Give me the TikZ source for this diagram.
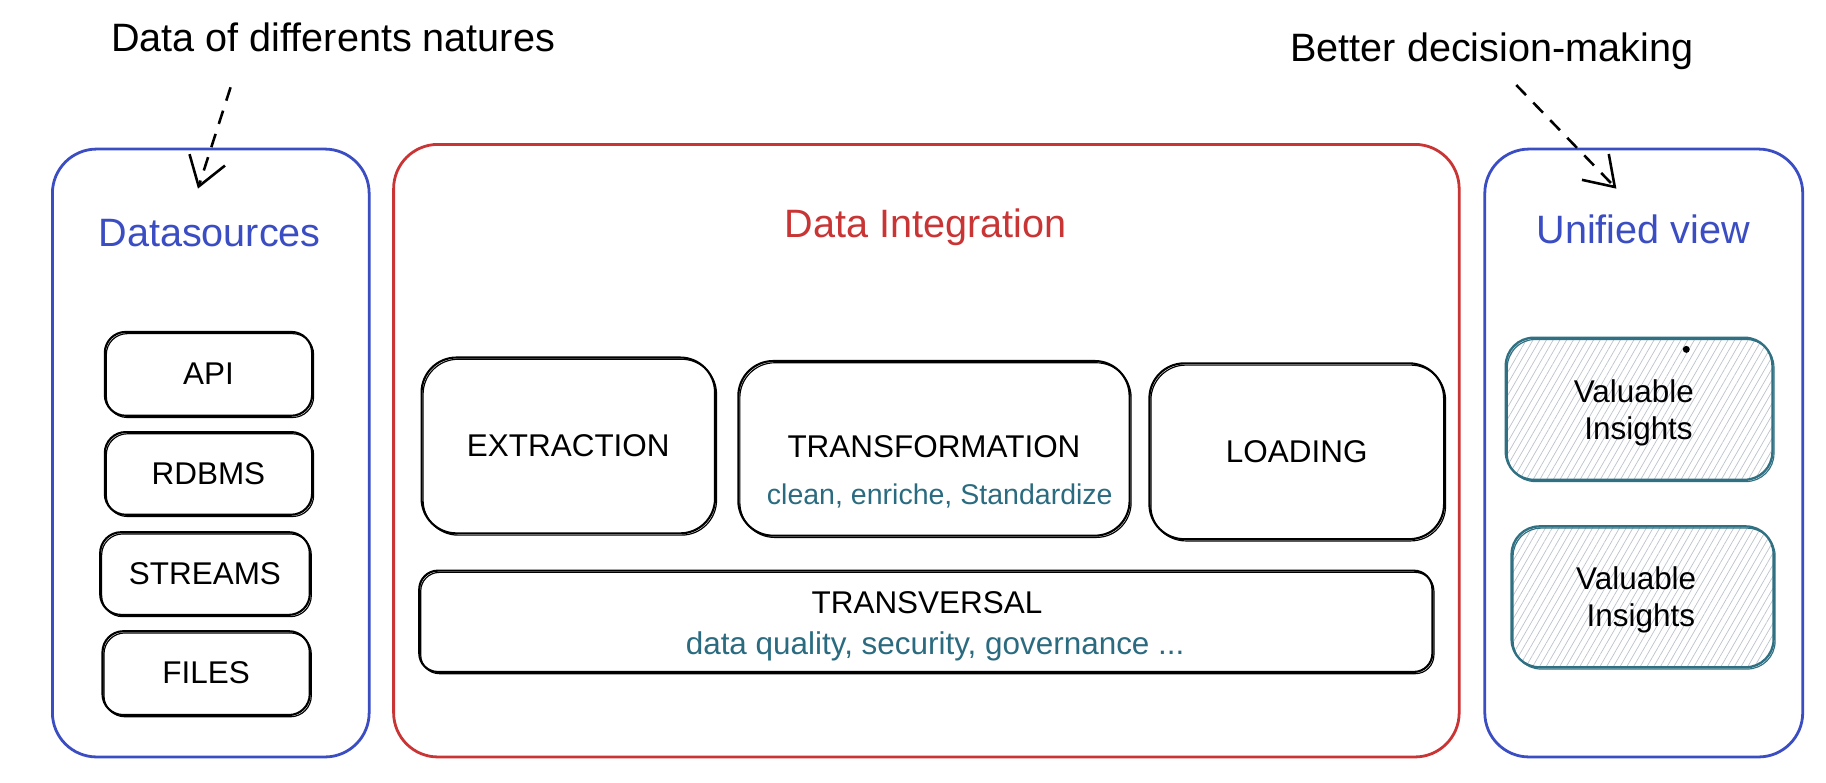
\documentclass[tikz,border=0pt]{standalone}
\usepackage{fontspec}
\setmainfont{Liberation Sans}
\usetikzlibrary{arrows.meta,patterns.meta}
\definecolor{dsblue}{HTML}{3B4DC2}
\definecolor{dired}{HTML}{C93434}
\definecolor{tealtxt}{HTML}{2B6B80}
\definecolor{tealline}{HTML}{2F7082}
\definecolor{hatchc}{HTML}{BCC3CB}
\begin{document}
\begin{tikzpicture}[x=1pt,y=-1pt,
  big/.style={draw, line width=2.4pt, rounded corners=38pt, inner sep=0pt},
  box/.style={draw, line width=1.8pt, rounded corners=#1, inner sep=0pt,
    font=\fontsize{27}{30}\selectfont,
    postaction={draw, line width=1pt, rounded corners=#1,
      transform canvas={shift={(1.3pt,-1.5pt)}}}},
  vibox/.style={draw=tealline, line width=2pt, rounded corners=24pt, inner sep=0pt,
    pattern={Lines[angle=60,distance=5pt,line width=0.6pt]}, pattern color=hatchc,
    postaction={draw=tealline, line width=1pt, rounded corners=24pt,
      transform canvas={shift={(1.3pt,-1.5pt)}}}},
  ttl/.style={inner sep=0pt, anchor=base, font=\fontsize{34}{40}\selectfont},
  lbl/.style={inner sep=0pt, anchor=base, font=\fontsize{27}{30}\selectfont},
  sub/.style={inner sep=0pt, anchor=base, text=tealtxt},
  notearrow/.style={line width=2.2pt, dash pattern=on 12pt off 9pt,
    -{Straight Barb[length=24pt,width=32pt,line width=2.2pt]}}
]
\useasboundingbox (0,0) rectangle (1568,672);
\fill[white] (0,0) rectangle (1568,672);

% main containers
\node[big, draw=dsblue, minimum width=272pt, minimum height=522pt] (ds) at (181,389) {};
\node[big, draw=dired, minimum width=915pt, minimum height=526pt] (di) at (795.5,387) {};
\node[big, draw=dsblue, minimum width=273pt, minimum height=522pt] (uv) at (1411.5,389) {};

% titles
\node[ttl, text=dsblue] (dst) at (180,212) {Datasources};
\node[ttl, text=dired] (dit) at (795,204) {Data Integration};
\node[ttl, text=dsblue] (uvt) at (1411,209) {Unified view};
\node[ttl] (n1) at (286,44) {Data of differents natures};
\node[ttl] (n2) at (1281,53) {Better decision-making};

% sources
\node[box=18pt, minimum width=178pt, minimum height=72pt] (api) at (179,321) {API};
\node[box=18pt, minimum width=178pt, minimum height=71pt] (rdbms) at (179,406.5) {RDBMS};
\node[box=18pt, minimum width=180pt, minimum height=71pt] (streams) at (176,492.5) {STREAMS};
\node[box=18pt, minimum width=178pt, minimum height=72pt] (files) at (177,578) {FILES};

% integration steps
\node[box=30pt, minimum width=252pt, minimum height=151pt] (ext) at (488,382.5) {EXTRACTION};
\node[box=30pt, minimum width=336pt, minimum height=150pt] (trans) at (802,385) {};
\node[box=30pt, minimum width=253pt, minimum height=151pt] (load) at (1113.5,387.5) {LOADING};
\node[box=16pt, minimum width=870pt, minimum height=87pt] (transv) at (795,533.5) {};
\node[lbl] (transt) at (802,393) {TRANSFORMATION};
\node[sub, font=\fontsize{24.5}{28}\selectfont] (transs) at (807,433) {clean, enriche, Standardize};
\node[lbl] (transvt) at (796,527) {TRANSVERSAL};
\node[sub, font=\fontsize{27}{30}\selectfont] (transvs) at (803,562) {data quality, security, governance ...};

% insights
\node[vibox, minimum width=229pt, minimum height=122pt] (vi1) at (1407.5,351) {};
\node[vibox, minimum width=225pt, minimum height=121pt] (vi2) at (1410.5,512.5) {};
\node[lbl] (vi1a) at (1403,346) {Valuable};
\node[lbl] (vi1b) at (1407,377) {Insights};
\node[lbl] (vi2a) at (1405,506) {Valuable};
\node[lbl] (vi2b) at (1409,538) {Insights};
\node[circle, fill=black, inner sep=0pt, minimum size=6pt] (dot) at (1448,300) {};

% note arrows
\coordinate (a1s) at (198,75);
\coordinate (a1e) at (170,162);
\coordinate (a2s) at (1302,73);
\coordinate (a2e) at (1388,162);
\draw[notearrow] (a1s) -- (a1e);
\draw[notearrow] (a2s) -- (a2e);
\end{tikzpicture}
\end{document}
